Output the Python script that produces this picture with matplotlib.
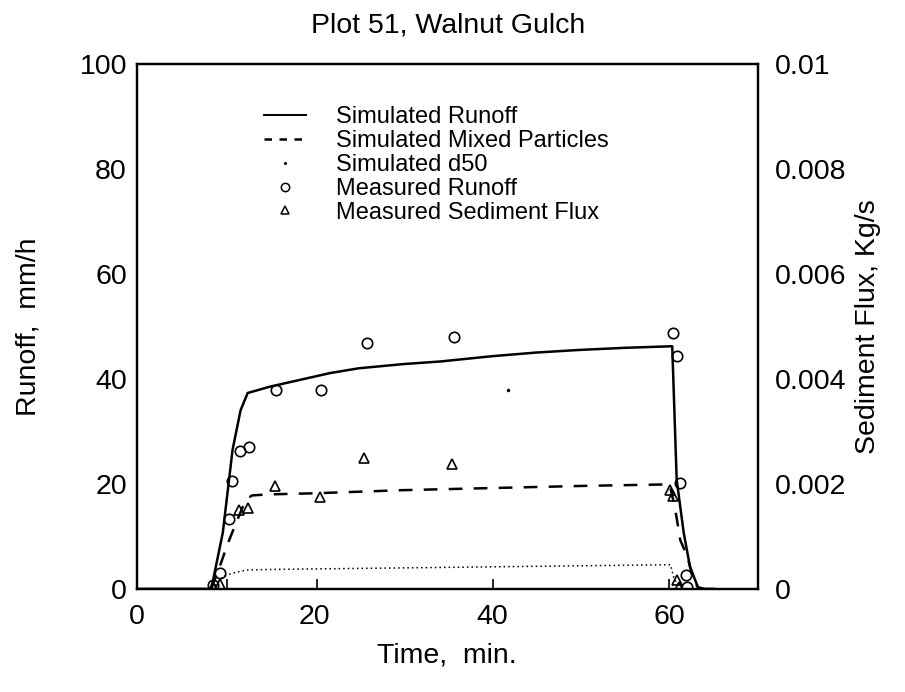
import matplotlib
matplotlib.use("Agg")
import matplotlib.pyplot as plt
from matplotlib.lines import Line2D

plt.rcParams['font.family'] = ['Liberation Sans', 'DejaVu Sans']

# Simulated runoff (mm/h)
sim_t = [0, 8.4, 9.7, 10.8, 11.7, 12.5, 15, 18.4, 21.8, 25, 30, 34.2, 40, 45, 49.9, 55, 60.3,
         60.8, 61.6, 62.3, 63.2, 64, 65]
sim_runoff = [0, 0, 10.7, 26.5, 34, 37.3, 38.5, 39.8, 41.1, 42, 42.8, 43.3, 44.3, 45, 45.5, 45.9, 46.2,
              20.8, 10.6, 4.2, 0.3, 0, 0]

# Simulated mixed particles sediment flux (kg/s)
mix_t = [8.4, 9.3, 10.3, 11.3, 12.3, 13, 15, 20, 30, 40, 50, 60,
         60.4, 60.8, 61.2, 62, 62.7, 63.3]
mix_flux = [0, 0.0004, 0.00088, 0.0013, 0.0017, 0.00178, 0.0018, 0.00182, 0.00188, 0.00192, 0.00196, 0.00199,
            0.0017, 0.00135, 0.00093, 0.00062, 0.00017, 0]

# Simulated d50 (plotted on runoff scale)
d50_t = [8.5, 9.7, 10.8, 12.4, 15, 20, 30, 40, 50, 60.1, 60.5, 61, 61.5]
d50_val = [0, 2.3, 3.0, 3.6, 3.7, 3.8, 4.0, 4.2, 4.4, 4.6, 2.0, 0.5, 0]

# Measured runoff (mm/h)
meas_t = [8.6, 9.4, 10.4, 10.7, 11.6, 12.6, 15.7, 20.7, 25.9, 35.7, 60.4, 60.8, 61.2, 61.9, 62.0]
meas_runoff = [0.8, 3.0, 13.3, 20.6, 26.2, 27.1, 37.9, 37.9, 46.8, 47.9, 48.8, 44.4, 20.2, 2.7, 0.3]

# Measured sediment flux (kg/s)
sed_t = [8.6, 9.4, 11.5, 12.5, 15.6, 20.6, 25.6, 35.5, 60.0, 60.4, 60.8, 61.1]
sed_flux = [0.00003, 0.0001, 0.0015, 0.00154, 0.00195, 0.00175, 0.0025, 0.00238, 0.00189, 0.00176, 0.00017, 0.00004]

# small marks near the baseline
mark_t = [10.2, 20.3, 40.1, 59.9]
mark_v = [0.9, 0.9, 0.9, 1.0]
stray_t = [41.8]
stray_v = [37.9]

x_ticks = [0, 20, 40, 60]
y_ticks = [0, 20, 40, 60, 80, 100]
y2_ticks = [0, 0.002, 0.004, 0.006, 0.008, 0.01]
y2_labels = ['0', '0.002', '0.004', '0.006', '0.008', '0.01']

fig = plt.figure(figsize=(9.05, 6.92), dpi=100)
ax = fig.add_axes([0.151, 0.149, 0.687, 0.759])
ax2 = ax.twinx()

ln_run, = ax.plot(sim_t, sim_runoff, color='black', lw=1.8, solid_joinstyle='round')
ln_d50, = ax.plot(d50_t, d50_val, color='black', lw=1.1, linestyle=(0, (1, 2)))
ln_meas, = ax.plot(meas_t, meas_runoff, linestyle='none', marker='o', markersize=7.5,
                   markerfacecolor='none', markeredgecolor='black', markeredgewidth=1.2)
ax.plot(mark_t, mark_v, linestyle='none', marker='|', markersize=7, color='black', markeredgewidth=1.2)
ax.plot(stray_t, stray_v, linestyle='none', marker='.', markersize=3, color='black')

ln_mix, = ax2.plot(mix_t, mix_flux, color='black', lw=1.8, linestyle=(0, (5.5, 4.5)))
ln_sed, = ax2.plot(sed_t, sed_flux, linestyle='none', marker='^', markersize=7,
                   markerfacecolor='none', markeredgecolor='black', markeredgewidth=1.2)

ax.set_xlim(0, 70)
ax.set_ylim(0, 100)
ax2.set_ylim(0, 0.01)
ax.set_xticks(x_ticks)
ax.set_yticks(y_ticks)
ax2.set_yticks(y2_ticks)
ax2.set_yticklabels(y2_labels)

ax.tick_params(axis='both', length=0, labelsize=20.5)
ax.tick_params(axis='x', pad=11)
ax.tick_params(axis='y', pad=7)
ax2.tick_params(axis='y', length=0, labelsize=20.5, pad=12)

for a in (ax, ax2):
    for s in a.spines.values():
        s.set_linewidth(1.6)

fig.text(0.495, 0.963, 'Plot 51, Walnut Gulch', ha='center', va='center', fontsize=20.5)
fig.text(0.494, 0.053, 'Time,  min.', ha='center', va='center', fontsize=20.5)
fig.text(0.031, 0.528, 'Runoff,  mm/h', ha='center', va='center', rotation=90, fontsize=20.5)
fig.text(0.959, 0.528, 'Sediment Flux, Kg/s', ha='center', va='center', rotation=90, fontsize=20.5)

h_run = Line2D([], [], color='black', lw=1.4)
h_mix = Line2D([], [], color='black', lw=1.8, linestyle=(0, (3, 3)))
h_d50 = Line2D([], [], color='black', linestyle='none', marker='.', markersize=2.5)
h_meas = Line2D([], [], linestyle='none', marker='o', markersize=6, markerfacecolor='none',
                markeredgecolor='black', markeredgewidth=1.1)
h_sed = Line2D([], [], linestyle='none', marker='^', markersize=6, markerfacecolor='none',
               markeredgecolor='black', markeredgewidth=1.1)
leg = ax.legend([h_run, h_mix, h_d50, h_meas, h_sed],
                ['Simulated Runoff', 'Simulated Mixed Particles', 'Simulated d50',
                 'Measured Runoff', 'Measured Sediment Flux'],
                loc='upper left', bbox_to_anchor=(0.19, 0.937), frameon=False,
                fontsize=17, handlelength=1.75, handletextpad=1.3, labelspacing=0.08,
                borderaxespad=0)

fig.savefig('out.png', dpi=100)
